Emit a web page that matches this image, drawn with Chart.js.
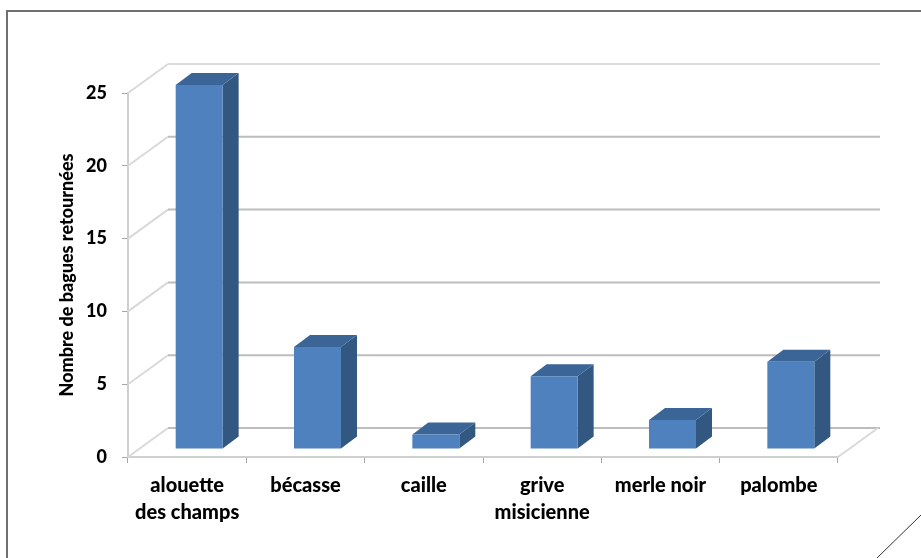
<!DOCTYPE html>
<html>
<head>
<meta charset="utf-8">
<title>Bagues retournées</title>
<script src="https://cdn.jsdelivr.net/npm/chart.js@4"></script>
<style>
	html, body { margin: 0; padding: 0; background: #fff; overflow: hidden; }
	canvas { display: block; }
</style>
</head>
<body>
<canvas id="myChart" width="921" height="558"></canvas>
<script>
let categories = [["alouette", "des champs"], "bécasse", "caille", ["grive", "misicienne"], "merle noir", "palombe"];
let bagues = [25, 7, 1, 5, 2, 6];
let yTicks = [0, 5, 10, 15, 20, 25];

const axisTitle = "Nombre de bagues retournées";
const fontName = "Lato, Carlito, sans-serif";

// fake 3d : wall is shifted from the axes, bars sit half way on the floor
const wallDx = 40, wallDy = -29;
const barDx = 12, barDy = -8;
const sideDx = 16, sideDy = -12;

// frame around the picture, with the folded corner bottom right
const framePlugin = {
	id: "frame",
	beforeDraw(chart) {
		const ctx = chart.ctx;
		ctx.save();
		ctx.strokeStyle = "#707070";
		ctx.lineWidth = 2;
		ctx.beginPath();
		ctx.moveTo(7, 558);
		ctx.lineTo(7, 11);
		ctx.lineTo(921, 11);
		ctx.stroke();
		ctx.strokeStyle = "#333";
		ctx.lineWidth = 1;
		ctx.beginPath();
		ctx.moveTo(877, 558);
		ctx.lineTo(921, 515);
		ctx.stroke();
		ctx.restore();
	}
};

// wall grid lines and the floor
const wallPlugin = {
	id: "wall",
	beforeDatasetsDraw(chart) {
		const ctx = chart.ctx;
		const area = chart.chartArea;
		const yScale = chart.scales.y;
		ctx.save();
		ctx.lineWidth = 2;
		yScale.ticks.forEach((tick) => {
			const y = yScale.getPixelForValue(tick.value);
			ctx.strokeStyle = "#d9d9d9";
			ctx.beginPath();
			ctx.moveTo(area.left, y);
			ctx.lineTo(area.left + wallDx, y + wallDy);
			ctx.stroke();
			ctx.strokeStyle = tick.value == 25 ? "#dcdcdc" : "#bdbdbd";
			ctx.beginPath();
			ctx.moveTo(area.left + wallDx, y + wallDy);
			ctx.lineTo(area.right + wallDx + 2, y + wallDy);
			ctx.stroke();
		});
		ctx.strokeStyle = "#d9d9d9";
		ctx.beginPath();
		ctx.moveTo(area.right, area.bottom);
		ctx.lineTo(area.right + wallDx, area.bottom + wallDy);
		ctx.stroke();
		ctx.restore();
	}
};

// shift the bars and add their side and top faces
const barPlugin = {
	id: "bar3d",
	beforeDatasetDraw(chart) {
		const ctx = chart.ctx;
		ctx.save();
		ctx.translate(barDx, barDy);
		chart.getDatasetMeta(0).data.forEach((bar) => {
			const right = bar.x + bar.width / 2;
			const left = bar.x - bar.width / 2;
			ctx.fillStyle = "#325780";
			ctx.beginPath();
			ctx.moveTo(right, bar.y);
			ctx.lineTo(right + sideDx, bar.y + sideDy);
			ctx.lineTo(right + sideDx, bar.base + sideDy);
			ctx.lineTo(right, bar.base);
			ctx.closePath();
			ctx.fill();
			ctx.fillStyle = "#3b6597";
			ctx.beginPath();
			ctx.moveTo(left, bar.y);
			ctx.lineTo(left + sideDx, bar.y + sideDy);
			ctx.lineTo(right + sideDx, bar.y + sideDy);
			ctx.lineTo(right, bar.y);
			ctx.closePath();
			ctx.fill();
		});
	},
	afterDatasetDraw(chart) {
		chart.ctx.restore();
	}
};

function createChart() {
	const ctx = document.getElementById("myChart").getContext("2d");
	const myChart = new Chart(ctx, {
		type: "bar",
		data: {
			labels: categories,
			datasets: [
				{
					label: axisTitle,
					data: bagues,
					backgroundColor: "#4e81bd",
					borderWidth: 0,
					barPercentage: 0.397,
					categoryPercentage: 1,
					clip: false,
				},
			],
		},
		plugins: [framePlugin, wallPlugin, barPlugin],
		options: {
			responsive: false,
			animation: false,
			layout: {
				padding: { top: 93, right: 83, left: 0, bottom: 0 },
			},
			plugins: {
				legend: { display: false },
				title: { display: false },
				tooltip: { enabled: false },
			},
			scales: {
				x: {
					afterFit(axis) { axis.height = 101; },
					border: { color: "#cfcfcf", width: 2 },
					grid: {
						drawOnChartArea: false,
						color: "#a6a6a6",
						tickLength: 6,
					},
					ticks: {
						color: "#000",
						padding: 9,
						maxRotation: 0,
						autoSkip: false,
						font: { family: fontName, size: 20, weight: "900", lineHeight: 1.35 },
					},
				},
				y: {
					min: yTicks[0],
					max: yTicks[yTicks.length - 1],
					afterFit(axis) { axis.width = 128; },
					afterBuildTicks(axis) { axis.ticks = yTicks.map((v) => ({ value: v })); },
					border: { color: "#cfcfcf", width: 2 },
					grid: {
						drawOnChartArea: false,
						color: "#a6a6a6",
						tickLength: 6,
					},
					title: {
						display: true,
						text: axisTitle,
						color: "#000",
						padding: { top: 56, bottom: 0 },
						font: { family: fontName, size: 18, weight: "900" },
					},
					ticks: {
						color: "#000",
						padding: 15,
						font: { family: fontName, size: 18, weight: "900" },
					},
				},
			},
		},
	});
}

createChart();
</script>
</body>
</html>
